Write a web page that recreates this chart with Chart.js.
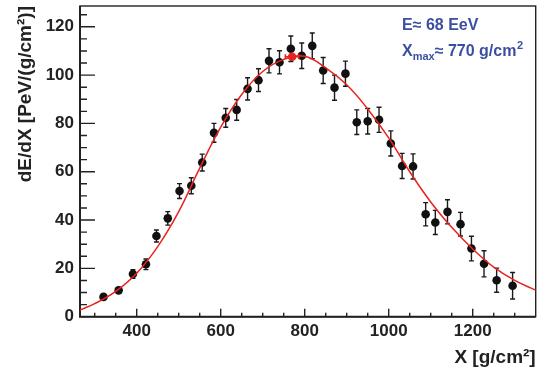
<!DOCTYPE html>
<html>
<head>
<meta charset="utf-8">
<script src="https://cdn.jsdelivr.net/npm/chart.js@4.4.0/dist/chart.umd.min.js"></script>
<style>
  html, body { margin: 0; padding: 0; background: #fff; }
  #wrap { width: 540px; height: 369px; }
</style>
</head>
<body>
<div id="wrap"><canvas id="dedxChart" width="540" height="369"></canvas></div>
<script>
// measured profile: slant depth [g/cm2], energy deposit [PeV/(g/cm2)] and its error
const depth = [321, 357, 391, 422, 447, 474, 502, 530, 556, 584, 612, 638, 664, 690, 715, 740, 767, 793,
  818, 844, 871, 897, 924, 950, 977, 1005, 1032, 1058, 1088, 1111, 1140, 1171, 1197, 1227, 1257, 1295];
const dEdX = [8.2, 10.9, 17.7, 21.7, 33.4, 40.7, 52.0, 54.2, 63.8, 76.1, 82.3, 85.6, 94.3, 97.9, 105.9, 105.3, 110.9, 108.0,
  112.1, 101.9, 94.8, 100.6, 80.5, 80.9, 81.5, 71.7, 62.4, 62.2, 42.4, 39.0, 43.4, 38.3, 28.2, 21.9, 15.1, 12.8];
const dEdXErr = [1.0, 1.2, 1.8, 2.2, 2.5, 2.8, 3.1, 3.3, 3.5, 3.9, 3.9, 4.3, 4.6, 4.7, 5.0, 4.8, 5.3, 5.3,
  5.3, 5.4, 5.2, 5.2, 5.1, 5.3, 5.2, 5.2, 5.2, 5.2, 4.8, 5.0, 5.0, 4.9, 5.1, 5.4, 5.0, 5.5];

// fitted profile
const fitX = [265, 300, 350, 400, 450, 500, 550, 600, 650, 700, 750, 800, 850, 900, 950, 1000, 1050, 1100, 1150, 1200, 1250, 1300, 1350];
const fitY = [2.8, 5.4, 10.5, 18.0, 29.0, 43.5, 61.5, 78.5, 92.0, 101.5, 106.5, 107.8, 103.0, 96.0, 86.0, 74.0, 60.0, 47.5, 37.0, 28.0, 20.5, 15.0, 11.0];

// shower maximum marker
const xmax = [770];
const xmaxVal = [107.6];
const xmaxErr = [16];

const xTicks = [400, 600, 800, 1000, 1200];
const yTicks = [0, 20, 40, 60, 80, 100, 120];

const energyLabel = "E\u2248 68 EeV";
const xmaxLabel = ["X", "max", "\u2248 770 g/cm", "2"];

const FONT = "'Liberation Sans', Arial, Helvetica, sans-serif";
Chart.defaults.font.family = FONT;

// error bars under the markers
const errorBars = {
  id: 'errorBars',
  beforeDatasetsDraw(chart) {
    const { ctx, scales: { x, y } } = chart;
    ctx.save();
    ctx.strokeStyle = '#1a1a1a';
    ctx.lineWidth = 1.4;
    ctx.beginPath();
    depth.forEach((d, i) => {
      const px = x.getPixelForValue(d);
      const y1 = y.getPixelForValue(dEdX[i] - dEdXErr[i]);
      const y2 = y.getPixelForValue(dEdX[i] + dEdXErr[i]);
      ctx.moveTo(px, y1); ctx.lineTo(px, y2);
      ctx.moveTo(px - 2.5, y1); ctx.lineTo(px + 2.5, y1);
      ctx.moveTo(px - 2.5, y2); ctx.lineTo(px + 2.5, y2);
    });
    ctx.stroke();
    ctx.restore();
  },
  afterDatasetsDraw(chart) {
    const { ctx, scales: { x, y } } = chart;
    ctx.save();
    ctx.strokeStyle = '#e8231f';
    ctx.lineWidth = 1.6;
    ctx.beginPath();
    xmax.forEach((v, i) => {
      const py = y.getPixelForValue(xmaxVal[i]);
      const x1 = x.getPixelForValue(v - xmaxErr[i]);
      const x2 = x.getPixelForValue(v + xmaxErr[i]);
      ctx.moveTo(x1, py); ctx.lineTo(x2, py);
      ctx.moveTo(x1, py - 2.5); ctx.lineTo(x1, py + 2.5);
      ctx.moveTo(x2, py - 2.5); ctx.lineTo(x2, py + 2.5);
    });
    ctx.stroke();
    ctx.restore();
  }
};

// ROOT style frame with inward ticks
const frameTicks = {
  id: 'frameTicks',
  beforeDatasetsDraw(chart) {
    const { ctx, chartArea: a, scales: { x, y } } = chart;
    ctx.save();
    ctx.strokeStyle = '#222';
    ctx.lineWidth = 1.4;
    ctx.strokeRect(a.left, a.top, a.right - a.left, a.bottom - a.top);
    ctx.lineWidth = 2;
    ctx.beginPath();
    ctx.moveTo(a.left, a.top); ctx.lineTo(a.left, a.bottom); ctx.lineTo(a.right, a.bottom);
    ctx.stroke();
    ctx.lineWidth = 1.4;
    ctx.beginPath();
    for (let v = 300; v < x.max; v += 50) {
      const px = x.getPixelForValue(v);
      const len = xTicks.includes(v) ? 8 : 4;
      ctx.moveTo(px, a.bottom); ctx.lineTo(px, a.bottom - len);
    }
    for (let v = 5; v < y.max; v += 5) {
      const py = y.getPixelForValue(v);
      const len = yTicks.includes(v) ? 15 : 7;
      ctx.moveTo(a.left, py); ctx.lineTo(a.left + len, py);
    }
    ctx.stroke();
    ctx.restore();
  }
};

// energy / Xmax text in the upper right
const infoText = {
  id: 'infoText',
  afterDraw(chart) {
    const { ctx } = chart;
    ctx.save();
    ctx.fillStyle = '#3b4fa0';
    ctx.textBaseline = 'middle';
    ctx.font = "bold 16px " + FONT;
    ctx.fillText(energyLabel, 402, 26);
    let cx = 402;
    ctx.fillText(xmaxLabel[0], cx, 52);
    cx += ctx.measureText(xmaxLabel[0]).width;
    ctx.font = "bold 11px " + FONT;
    ctx.fillText(xmaxLabel[1], cx, 57);
    cx += ctx.measureText(xmaxLabel[1]).width;
    ctx.font = "bold 16px " + FONT;
    ctx.fillText(xmaxLabel[2], cx, 52);
    cx += ctx.measureText(xmaxLabel[2]).width;
    ctx.font = "bold 11px " + FONT;
    ctx.fillText(xmaxLabel[3], cx + 0.5, 46);
    ctx.restore();
  }
};

const ctx = document.getElementById("dedxChart").getContext("2d");
new Chart(ctx, {
  type: 'scatter',
  data: {
    datasets: [
      {
        label: "fit",
        data: fitX.map((v, i) => ({ x: v, y: fitY[i] })),
        showLine: true,
        borderColor: '#e8231f',
        borderWidth: 1.5,
        pointRadius: 0,
        tension: 0.4,
        order: 1
      },
      {
        label: "Xmax",
        data: xmax.map((v, i) => ({ x: v, y: xmaxVal[i] })),
        pointRadius: 4.3,
        pointBackgroundColor: '#e8231f',
        pointBorderWidth: 0,
        order: 0
      },
      {
        label: "dE/dX",
        data: depth.map((v, i) => ({ x: v, y: dEdX[i] })),
        pointRadius: 4.3,
        pointBackgroundColor: '#111',
        pointBorderWidth: 0,
        order: 2
      }
    ]
  },
  options: {
    responsive: false,
    animation: false,
    devicePixelRatio: 1,
    layout: { padding: { top: 6, right: 1.5, left: 0, bottom: 0 } },
    plugins: {
      legend: { display: false },
      tooltip: { enabled: false }
    },
    scales: {
      x: {
        type: 'linear',
        min: 265,
        max: 1350,
        afterBuildTicks: (axis) => { axis.ticks = xTicks.map(v => ({ value: v })); },
        afterFit: (axis) => { axis.height = 52.3; axis.paddingLeft = 0; axis.paddingRight = 0; },
        grid: { display: false, drawTicks: false },
        border: { display: false },
        ticks: {
          color: '#222', padding: 4, font: { size: 17, weight: 'bold' },
          callback: (v) => String(v)
        },
        title: {
          display: true,
          text: "X [g/cm\u00b2]",
          align: 'end',
          color: '#222',
          padding: { top: 0, bottom: 0 },
          font: { size: 19, weight: 'bold' }
        }
      },
      y: {
        type: 'linear',
        min: 0,
        max: 128.6,
        afterBuildTicks: (axis) => { axis.ticks = yTicks.map(v => ({ value: v })); },
        afterFit: (axis) => { axis.width = 80; axis.paddingTop = 0; axis.paddingBottom = 0; },
        grid: { display: false, drawTicks: false },
        border: { display: false },
        ticks: {
          color: '#222', padding: 6, font: { size: 17, weight: 'bold' },
          callback: (v) => String(v)
        },
        title: {
          display: true,
          text: "dE/dX [PeV/(g/cm\u00b2)]",
          align: 'end',
          color: '#222',
          padding: { top: 14, bottom: 0 },
          font: { size: 19, weight: 'bold' }
        }
      }
    }
  },
  plugins: [frameTicks, errorBars, infoText]
});
</script>
</body>
</html>
